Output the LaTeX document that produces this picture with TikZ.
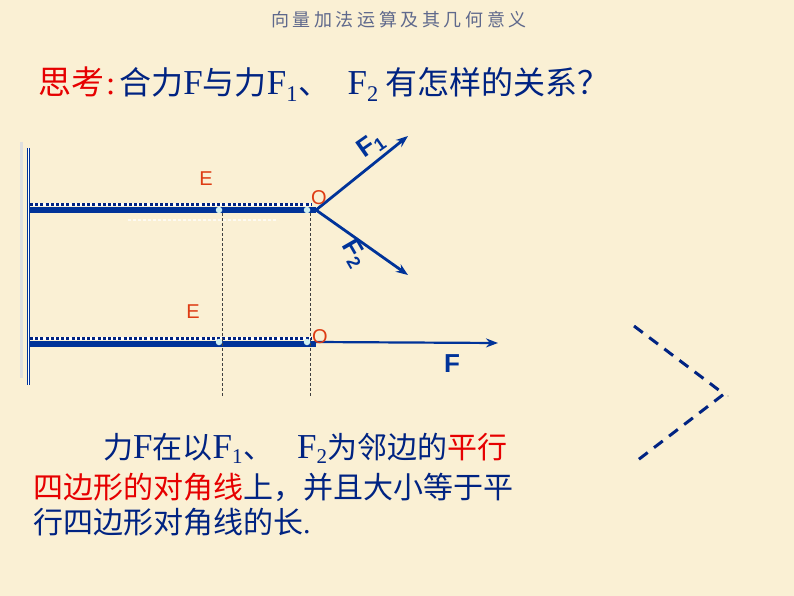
\documentclass[tikz,border=0pt]{standalone}
\usepackage{fontspec}
\setmainfont{Liberation Serif}
\newfontfamily\cjk{Noto Sans CJK SC}
\newfontfamily\cjkwide[LetterSpace=20]{Noto Sans CJK SC}
\newfontfamily\lab{Liberation Sans}
\usetikzlibrary{arrows.meta}

\definecolor{paper}{RGB}{250,240,212}
\definecolor{navy}{RGB}{0,35,130}
\definecolor{rodblue}{RGB}{0,51,153}
\definecolor{hired}{RGB}{230,0,0}
\definecolor{ptred}{RGB}{222,60,20}
\definecolor{titlegray}{RGB}{95,105,140}
\definecolor{knot}{RGB}{205,238,240}

\newcommand\zh[1]{{\cjk #1}}
\newcommand\bigF{{\fontsize{35}{35}\selectfont F}}
\newcommand\dun[1]{\zh{、}\hspace{#1}}

\tikzset{
  rod/.style={rodblue,line width=6pt},
  rodback/.style={white,line width=3pt},
  rodtop/.style={navy,line width=3pt,dash pattern=on 3pt off 2.2pt},
  guide/.style={black!75,line width=0.6pt,dash pattern=on 3pt off 2pt},
  force/.style={rodblue,line width=2.8pt,-{Stealth[length=12pt,width=9pt]}},
  ptlabel/.style={ptred,font=\lab\fontsize{20}{20}\selectfont,inner sep=0pt},
  forcelabel/.style={rodblue,font=\lab\bfseries\fontsize{26}{26}\selectfont,inner sep=0pt},
  knotpt/.style={circle,fill=knot,inner sep=0pt,minimum size=6.5pt},
  bodytext/.style={anchor=base west,inner sep=0pt,navy,font=\fontsize{30}{30}\selectfont},
}

\begin{document}
\begin{tikzpicture}[x=1pt,y=-1pt]
  \fill[paper] (0,0) rectangle (794,596);
  \useasboundingbox (0,0) rectangle (794,596);

  % title and question
  \node[titlegray,font=\cjkwide\fontsize{18}{18}\selectfont,inner sep=0pt] (title) at (399,20) {向量加法运算及其几何意义};
  \node[bodytext,font=\fontsize{32}{32}\selectfont] (question) at (38,95)
    {\textcolor{hired}{\fontsize{33}{33}\selectfont\zh{思考}\hspace{2pt}:\hspace{4pt}}\zh{合力}\bigF\zh{与力}\bigF\textsubscript{1}\dun{0.55em}\bigF\textsubscript{2}\hspace{0.2em}\zh{有怎样的关系？}};

  % wall
  \draw[gray!25,line width=3pt] (21,142) -- (21,378);
  \draw[rodblue,line width=1.4pt,double=white,double distance=1pt] (28.5,148) -- (28.5,385);

  % points
  \coordinate (o1) at (316,210);
  \coordinate (o2) at (316,344);
  \coordinate (f1) at (408,136);
  \coordinate (f2) at (408,275);
  \coordinate (f) at (498,343);

  % upper rod
  \draw[white,opacity=.7,line width=1.5pt,dash pattern=on 3pt off 2pt] (128,220) -- (278,220);
  \draw[rod] (29,210) -- (o1);
  \draw[rodback] (30,204) -- (312,204);
  \draw[rodtop] (30,204) -- (312,204);
  \draw[force] (o1) -- (f1);
  \draw[force] (o1) -- (f2);

  % lower rod
  \draw[rod] (29,344) -- (o2);
  \draw[rodback] (30,338) -- (312,338);
  \draw[rodtop] (30,338) -- (312,338);
  \draw[rodblue,line width=2.2pt,-{Stealth[length=12pt,width=9pt]}] (316,342) -- (f);

  % guides
  \draw[guide] (222,213) -- (222,396);
  \draw[guide] (310,213) -- (310,396);

  \node[knotpt] (e1) at (219,210) {};
  \node[knotpt] (k1) at (307,210) {};
  \node[knotpt] (e2) at (219,342) {};
  \node[knotpt] (k2) at (307,342) {};

  % labels
  \node[ptlabel] (labe1) at (206,179) {E};
  \node[ptlabel] (labe2) at (193,312) {E};
  \node[ptlabel] (labo1) at (319,198) {O};
  \node[ptlabel] (labo2) at (320,337) {O};
  \node[forcelabel,rotate=35] (labf1) at (371,145) {F\textsubscript{1}};
  \node[forcelabel,rotate=-60] (labf2) at (354,254) {F\textsubscript{2}};
  \node[forcelabel] (labf) at (452,364) {F};

  % right bracket
  \coordinate (b1) at (634,326);
  \coordinate (b2) at (724,394);
  \coordinate (b3) at (634,463);
  \draw[navy,line width=3pt,dash pattern=on 11pt off 8pt] (b1) -- (b2) -- (b3);
  \fill[gray] (728,396) circle (0.6pt);

  % conclusion
  \node[bodytext] (line1) at (103,458)
    {\zh{力}\bigF\zh{在以}\bigF\textsubscript{1}\dun{0.8em}\bigF\textsubscript{2}\zh{为邻边的}\textcolor{hired}{\zh{平行}}};
  \node[bodytext] (line2) at (33,498)
    {\textcolor{hired}{\zh{四边形的对角线}}\zh{上，并且大小等于平}};
  \node[bodytext] (line3) at (33,533) {\zh{行四边形对角线的长}.};
\end{tikzpicture}
\end{document}
